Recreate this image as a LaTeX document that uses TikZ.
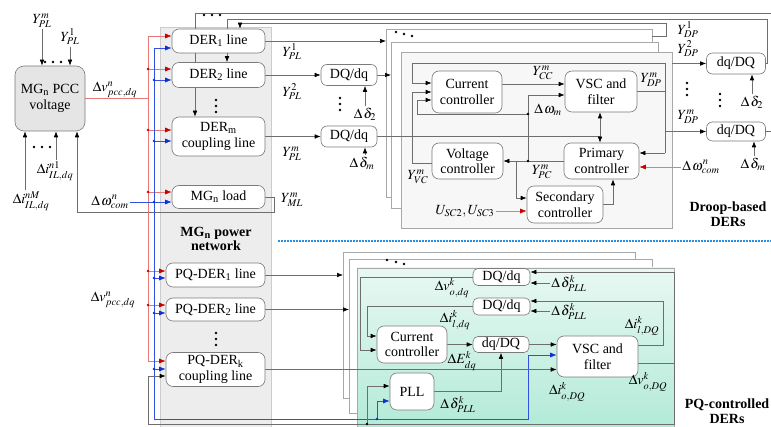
\documentclass[tikz,border=0pt]{standalone}
\usepackage{mathptmx}
\usepackage{fontspec}
\setmainfont{Liberation Serif}
\usetikzlibrary{arrows.meta}
\pgfdeclarelayer{back}
\pgfdeclarelayer{wires}
\pgfsetlayers{back,wires,main}
\definecolor{ln}{HTML}{6E6E6E}
\definecolor{rd}{HTML}{E87878}
\definecolor{rdh}{HTML}{C80000}
\definecolor{bl}{HTML}{3050E0}
\definecolor{blh}{HTML}{1030D0}
\definecolor{frm}{HTML}{A8A8A8}
\definecolor{bxd}{HTML}{7A7A7A}
\definecolor{colf}{HTML}{EDEDED}
\definecolor{dotb}{HTML}{2B8FE0}
\definecolor{tealtop}{HTML}{E8F8F3}
\definecolor{tealbot}{HTML}{B2EAD7}
\newcommand{\Dd}{\Delta\mkern1.5mu\delta}
\newcommand{\Dw}{\Delta\mkern1.5mu\omega}
\begin{document}
\begin{tikzpicture}[x=1pt,y=-1pt,
 every node/.style={font=\fontsize{14}{15.5}\selectfont, inner sep=1.5pt},
 box/.style={draw=bxd, line width=0.6pt, rounded corners=7pt, fill=white, align=center, inner sep=0pt},
 wire/.style={draw=ln, line width=0.6pt},
 arr/.style={wire, -{Latex[length=6pt,width=4.6pt,color=black]}},
 rw/.style={draw=rd, line width=0.6pt},
 rarr/.style={rw, -{Latex[length=6.5pt,width=5pt,color=rdh]}},
 bw/.style={draw=bl, line width=0.6pt},
 barr/.style={bw, -{Latex[length=6.5pt,width=5pt,color=blh]}},
 dbl/.style={wire, {Latex[length=6pt,width=4.6pt,color=black]}-{Latex[length=6pt,width=4.6pt,color=black]}},
 stackframe/.style={draw=frm, line width=0.6pt},
 hdr/.style={font=\bfseries\fontsize{14}{14.5}\selectfont, align=center},
]
\useasboundingbox (0,0) rectangle (771,427);

% ---------- background ----------
\begin{pgfonlayer}{back}
 \fill[white] (0,0) rectangle (771,427);
 \fill[colf] (160,27) rectangle (271,427);
 \draw[draw=black!20, line width=0.6pt] (160,427) -- (160,27) -- (271,27) -- (271,427);
 % droop stack
 \draw[stackframe, fill=white] (386,29) rectangle (652,197);
 \draw[stackframe, fill=white] (391,42) rectangle (658,208);
 \draw[stackframe, fill=black!3] (401,52) rectangle (672,228);
 % PQ stack
 \draw[stackframe, fill=white] (343,252) rectangle (635,398);
 \draw[stackframe, fill=white] (349,259) rectangle (652,413);
 \shade[top color=tealtop, bottom color=tealbot] (357,268) rectangle (674,430);
 \draw[stackframe] (357,430) -- (357,268) -- (674,268) -- (674,430);
 \draw[dotb, line width=1.3pt, dash pattern=on 1.6pt off 1.4pt] (278,241) -- (771,241);
\end{pgfonlayer}

% ---------- blocks ----------
\node[box, fill=black!10, minimum width=70, minimum height=65, rounded corners=9pt] (pcc) at (50,98.5) {MG\textsubscript{n} PCC\\voltage};
\node[box, minimum width=93, minimum height=24] (der1) at (218.5,41) {DER\textsubscript{1} line};
\node[box, minimum width=93, minimum height=25] (der2) at (218.5,75) {DER\textsubscript{2} line};
\node[box, minimum width=93, minimum height=39] (derm) at (218.5,136.5) {DER\textsubscript{m}\\coupling line};
\node[box, minimum width=93, minimum height=23] (mgl) at (218.5,197) {MG\textsubscript{n} load};
\node[box, minimum width=99, minimum height=24] (pq1) at (215.5,275) {PQ-DER\textsubscript{1} line};
\node[box, minimum width=99, minimum height=23] (pq2) at (215.5,309.5) {PQ-DER\textsubscript{2} line};
\node[box, minimum width=99, minimum height=34] (pqk) at (215.5,369.5) {PQ-DER\textsubscript{k}\\coupling line};
\node[hdr] (netl) at (216,239) {MG\textsubscript{n} power\\network};

\node[box, minimum width=56, minimum height=21, rounded corners=6pt] (dqi2) at (349,75) {DQ/dq};
\node[box, minimum width=56, minimum height=21, rounded corners=6pt] (dqim) at (349,136.5) {DQ/dq};

\node[box, minimum width=70, minimum height=42] (cc) at (467,92) {Current\\controller};
\node[box, minimum width=72, minimum height=41] (vsc) at (601,91.5) {VSC and\\filter};
\node[box, minimum width=71, minimum height=36] (vc) at (467.5,161) {Voltage\\controller};
\node[box, minimum width=75, minimum height=36] (pc) at (601.5,161) {Primary\\controller};
\node[box, minimum width=76, minimum height=37] (sc) at (565,204.5) {Secondary\\controller};

\node[box, minimum width=59, minimum height=21, rounded corners=6pt] (dqo2) at (736,63.5) {dq/DQ};
\node[box, minimum width=59, minimum height=19, rounded corners=6pt] (dqom) at (736,131.5) {dq/DQ};

\node[box, minimum width=57, minimum height=17, rounded corners=5pt] (dqa) at (501.5,277) {DQ/dq};
\node[box, minimum width=57, minimum height=17, rounded corners=5pt] (dqb) at (501.5,306.5) {DQ/dq};
\node[box, minimum width=56, minimum height=16, rounded corners=5pt] (dqc) at (501,344.5) {dq/DQ};
\node[box, minimum width=70, minimum height=37] (cc2) at (412,344.5) {Current\\controller};
\node[box, minimum width=44, minimum height=37] (pll) at (412,391.5) {PLL};
\node[box, minimum width=81, minimum height=41] (vsc2) at (597.5,356.5) {VSC and\\filter};

% ---------- labels ----------
\node (lYm) at (42,21) {$Y^{m}_{PL}$};
\node (lY1) at (70,37) {$Y^{1}_{PL}$};
\node (lin1) at (55,171) {$\Delta i^{n1}_{IL,dq}$};
\node (linM) at (31,201) {$\Delta i^{nM}_{IL,dq}$};
\node (lvp) at (115,90) {$\Delta v^{n}_{pcc,dq}$};
\node (lwc1) at (110,202) {$\Dw^{n}_{com}$};
\node (lvp2) at (113,300) {$\Delta v^{n}_{pcc,dq}$};
\node (lypl1) at (292,52) {$Y^{1}_{PL}$};
\node (lypl2) at (292,92) {$Y^{2}_{PL}$};
\node (lyplm) at (292,154) {$Y^{m}_{PL}$};
\node (lyml) at (292,200) {$Y^{m}_{ML}$};
\node (ld2i) at (365,114) {$\Dd_2$};
\node (ldmi) at (362,163) {$\Dd_m$};
\node (lycc) at (543,73) {$Y^{m}_{CC}$};
\node (ldwm) at (548,110) {$\Dw_m$};
\node (lyvc) at (418,177) {$Y^{m}_{VC}$};
\node (lypc) at (542,172) {$Y^{m}_{PC}$};
\node (lusc) at (465,211) {$U_{SC2},U_{SC3}$};
\node (lydpv) at (651,80) {$Y^{m}_{DP}$};
\node (lydp1) at (688,30) {$Y^{1}_{DP}$};
\node (lydp2) at (688,49) {$Y^{2}_{DP}$};
\node (lydpm) at (688,117) {$Y^{m}_{DP}$};
\node (ld2o) at (752,102) {$\Dd_2$};
\node (ldmo) at (753,164) {$\Dd_m$};
\node (lwc2) at (701,167) {$\Dw^{n}_{com}$};
\node[hdr] (droopl) at (728,214) {Droop-based\\DERs};
\node[hdr] (pql) at (727,411) {PQ-controlled\\DERs};
\node (lvo) at (452,288) {$\Delta v^{k}_{o,dq}$};
\node (lil) at (455,320) {$\Delta i^{k}_{l,dq}$};
\node (led) at (462,361) {$\Delta E^{k}_{dq}$};
\node (ldpll) at (458,404) {$\Dd^{k}_{PLL}$};
\node (ldp1) at (569,283) {$\Dd^{k}_{PLL}$};
\node (ldp2) at (569,311) {$\Dd^{k}_{PLL}$};
\node (lilDQ) at (642,326) {$\Delta i^{k}_{l,DQ}$};
\node (lvoDQ) at (648,382) {$\Delta v^{k}_{o,DQ}$};
\node (lioDQ) at (567,392) {$\Delta i^{k}_{o,DQ}$};

% ---------- bus tap coordinates ----------
\coordinate (r1) at (148,36);  \coordinate (r2) at (148,69);  \coordinate (r3) at (148,130);
\coordinate (r4) at (148,192); \coordinate (r5) at (148,271); \coordinate (r6) at (148,305);
\coordinate (r7) at (148,361);
\coordinate (b1) at (154,48);  \coordinate (b2) at (154,80);  \coordinate (b3) at (154,141);
\coordinate (b5) at (154,278); \coordinate (b6) at (154,313); \coordinate (b7) at (154,369);
\coordinate (b8) at (154,419); \coordinate (b9) at (377,419);
\coordinate (k1) at (367,424);
\coordinate (vo) at (674,363);
\coordinate (dwm) at (528,114); \coordinate (ypc) at (528,161); \coordinate (ypc2) at (516,161);
\coordinate (ydpm) at (665,63); \coordinate (ydpb) at (665,153);
\coordinate (edge13) at (771,13); \coordinate (edge19) at (767,19);
\coordinate (f1) at (652,36); \coordinate (fr) at (672,63.5);

% ---------- connectors ----------
\begin{pgfonlayer}{wires}
 % PCC voltage
 \draw[arr] (lYm.south) -- (lYm.south |- pcc.north);
 \draw[arr] (lY1.south) -- (lY1.south |- pcc.north);
 \draw[arr] (linM.north -| 25,0) -- (pcc.south -| 25,0);
 \draw[arr] (lin1.north -| 56,0) -- (pcc.south -| 56,0);
 \draw[arr] (mgl.east) -| (274,212) -| (pcc.south -| 77,0);
 % red bus
 \draw[rw] (pcc.east) -- (pcc.east -| 148,0);
 \draw[rw] (r1) -- (r7);
 \draw[rarr] (r1) -- (der1.west |- r1);
 \draw[rarr] (r2) -- (der2.west |- r2);
 \draw[rarr] (r3) -- (derm.west |- r3);
 \draw[rarr] (r4) -- (mgl.west |- r4);
 \draw[rarr] (r5) -- (pq1.west |- r5);
 \draw[rarr] (r6) -- (pq2.west |- r6);
 \draw[rarr] (r7) -- (pqk.west |- r7);
 % blue bus
 \draw[bw] (b1) -- (b8);
 \draw[barr] (b1) -- (der1.west |- b1);
 \draw[barr] (b2) -- (der2.west |- b2);
 \draw[barr] (b3) -- (derm.west |- b3);
 \draw[barr] (lwc1.east) -- (mgl.west |- lwc1.east);
 \draw[barr] (b5) -- (pq1.west |- b5);
 \draw[barr] (b6) -- (pq2.west |- b6);
 \draw[barr] (b7) -- (pqk.west |- b7);
 \draw[barr] (b8) -| (528,355) -- (vsc2.west |- 0,355);
 \draw[barr] (b9) |- (pll.west |- 0,401);
 % PQ-controlled DERs
 \draw[arr] (pq1.east) -- (pq1.east -| 343,0);
 \draw[arr] (pq2.east) -- (pq2.east -| 349,0);
 \draw[arr] (pqk.east) -- (vsc2.west |- pqk.east);
 \draw[wire] (vsc2.east |- vo) -- (vo);
 \draw[arr] (vo) |- (dqa.east |- 0,272);
 \draw[arr] (vo) |- (148,424) |- (pqk.west |- 0,376);
 \draw[arr] (k1) |- (pll.west |- 0,386);
 \draw[arr] (dqa.west) -| (360,350) -- (cc2.west |- 0,350);
 \draw[arr] (dqb.west) -| (367,336) -- (cc2.west |- 0,336);
 \draw[arr] (cc2.east) -- (dqc.west);
 \draw[arr] (dqc.east) -- (vsc2.west |- dqc.east);
 \draw[arr] (pll.east) -| (dqc.south);
 \draw[arr] (vsc2.east |- 0,345) -| (663,301) -- (dqb.east |- 0,301);
 \draw[arr] (ldp1.west) -- (dqa.east |- ldp1.west);
 \draw[arr] (ldp2.west) -- (dqb.east |- ldp2.west);
 % droop-based DERs: inputs
 \draw[arr] (der1.east) -- (der1.east -| 386,0);
 \draw[arr] (der2.east) -- (dqi2.west);
 \draw[arr] (derm.east) -- (dqim.west);
 \draw[arr] (dqi2.east) -- (dqi2.east -| 391,0);
 \draw[wire] (dqim.east) -- (dqim.east -| 600,0);
 \draw[arr] (ld2i.north) -- (dqi2.south -| ld2i.north);
 \draw[arr] (ldmi.north -| 365,0) -- (dqim.south -| 365,0);
 % droop internals
 \draw[arr] (cc.east |- 0,84) -- (vsc.west |- 0,84);
 \draw[wire] (vsc.east) -- (vsc.east -| ydpm);
 \draw[wire] (ydpm) -- (ydpb);
 \draw[arr] (ydpm) -| (412,83) -- (cc.west |- 0,83);
 \draw[arr] (ydpb) -- (pc.east |- ydpb);
 \draw[arr] (dqom.west -| ydpm) -- (dqom.west);
 \draw[arr] (vc.west |- 0,163) -| (412,92) -- (cc.west |- 0,92);
 \draw[arr] (ypc) -- (528,95) -- (vsc.west |- 0,95);
 \draw[arr] (dwm) -| (417,100) -- (cc.west |- 0,100);
 \draw[arr] (pc.west) -- (vc.east);
 \draw[arr] (ypc2) |- (sc.west |- 0,198);
 \draw[arr] (sc.east) -| (pc.south -| 613,0);
 \draw[rarr] (lusc.east) -- (sc.west |- lusc.east);
 \draw[dbl] (vsc.south -| 600,0) -- (pc.north -| 600,0);
 \draw[rarr] (lwc2.west) -- (pc.east |- lwc2.west);
 % droop outputs
 \draw[arr] (fr) -- (dqo2.west);
 \draw[arr] (dqo2.east) -| (edge19) -| (der2.north -| 227,0);
 \draw[arr] (edge13) -| (derm.north -| 195,0);
 \draw[wire] (dqom.east) -- (dqom.east -| 771,0);
 \draw[arr] (f1) -| (666,23) -| (der1.north -| 240,0);
 \draw[arr] (ld2o.north) -- (dqo2.south -| ld2o.north);
 \draw[arr] (ldmo.north -| 754,0) -- (dqom.south -| 754,0);
\end{pgfonlayer}

% ---------- junction dots ----------
\foreach \p in {r2,r3,r4,r5,r6} \fill[rdh] (\p) circle (1.4pt);
\foreach \p in {b2,b3,b5,b6,b7,b9} \fill[blh] (\p) circle (1.4pt);
\fill[blh] (154,202) circle (1.4pt);
\foreach \p in {k1,dwm,ypc} \fill[black] (\p) circle (1.3pt);

% ---------- ellipsis dots ----------
\foreach \x/\y in {45/62,53/62,61/62, 34/147,42/147,50/147, 204/15,212/15,220/15,
  216/100,216/106,216/112, 216/333,216/339,216/345, 340/98,340/104,340/110,
  687/83,687/89,687/95, 720/94,720/100,720/106, 396/32,404/34,412/36,
  387/260,396/262,404/264}
  \fill[black] (\x,\y) circle (1.3pt);
\end{tikzpicture}
\end{document}
